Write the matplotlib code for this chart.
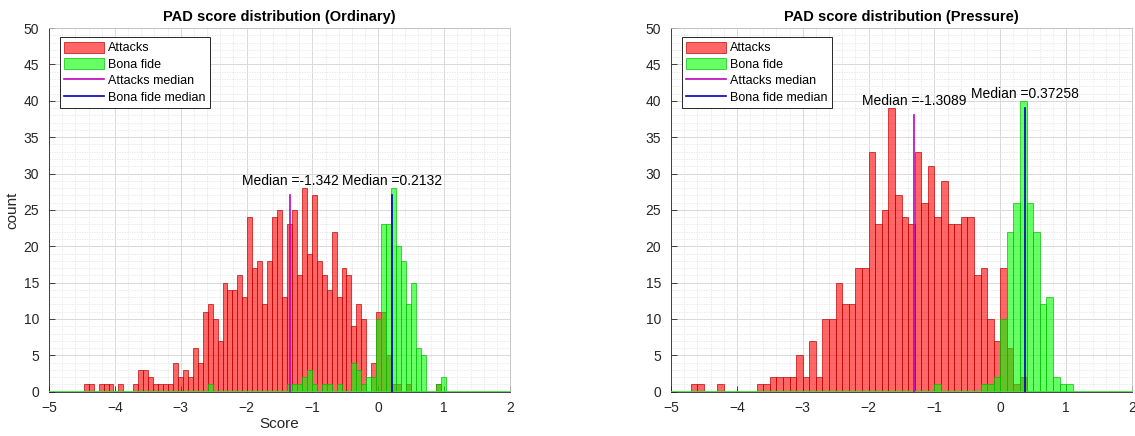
import matplotlib
matplotlib.use("Agg")
import numpy as np
import matplotlib.pyplot as plt
from matplotlib.ticker import MultipleLocator

plt.rcParams['font.family'] = ['Liberation Sans', 'DejaVu Sans']

# ---- Ordinary sensor: 93 equal bins spanning [-5, 2] ----
ord_bin_width = 7 / 93
ord_attack_first_bin = 7
ord_attack_counts = [
    1, 1, 0, 1, 1, 1, 0, 1, 0, 0,
    1, 3, 3, 2, 1, 1, 1, 1, 4, 2,
    3, 2, 6, 4, 11, 12, 10, 7, 15, 14,
    14, 16, 13, 24, 17, 18, 12, 18, 24, 25,
    13, 23, 25, 16, 28, 19, 27, 18, 16, 14,
    22, 13, 17, 16, 9, 12, 10, 0, 4, 11,
    11, 5, 1, 1, 0, 1, 0, 0, 0, 0,
    0, 1,
]
ord_bona_first_bin = 32
ord_bona_counts = [
    1, 0, 0, 0, 0, 0, 0, 0, 0, 0,
    0, 0, 0, 0, 0, 0, 1, 1, 1, 2,
    3, 1, 0, 1, 1, 0, 1, 0, 0, 4,
    3, 1, 2, 2, 10, 23, 23, 28, 20, 18,
    12, 15, 6, 5, 0, 0, 1, 2,
]
ord_attack_median = -1.342
ord_bona_median = 0.2132

# ---- Pressure sensor: bins of width 0.1 starting at -5 ----
prs_bin_width = 0.1
prs_attack_first_bin = 3
prs_attack_counts = [
    1, 1, 0, 0, 1, 0, 0, 0, 0, 0,
    1, 1, 2, 2, 2, 2, 5, 2, 7, 2,
    10, 10, 15, 12, 12, 17, 17, 33, 23, 25,
    39, 27, 24, 23, 33, 26, 31, 24, 29, 23,
    23, 24, 24, 16, 17, 10, 7, 17, 6, 1,
    2,
]
prs_bona_first_bin = 40
prs_bona_counts = [
    1, 0, 0, 0, 0, 0, 0, 1, 1, 2,
    10, 22, 26, 40, 26, 22, 12, 13, 2, 1,
    1,
]
prs_attack_median = -1.3089
prs_bona_median = 0.37258

panels = [
    ("PAD score distribution (Ordinary)", ord_bin_width,
     ord_attack_first_bin, ord_attack_counts, ord_bona_first_bin, ord_bona_counts,
     ord_attack_median, ord_bona_median, "-1.342", "0.2132"),
    ("PAD score distribution (Pressure)", prs_bin_width,
     prs_attack_first_bin, prs_attack_counts, prs_bona_first_bin, prs_bona_counts,
     prs_attack_median, prs_bona_median, "-1.3089", "0.37258"),
]

X_MIN, X_MAX = -5, 2
AX_GRAY = (0.15, 0.15, 0.15)

fig = plt.figure(figsize=(11.35, 4.36), dpi=100)
axes = [fig.add_axes([0.0432, 0.1016, 0.4062, 0.834]),
        fig.add_axes([0.5912, 0.1016, 0.4062, 0.834])]

for ax, (title, bw, a0, a_counts, b0, b_counts, a_med, b_med, a_txt, b_txt) in zip(axes, panels):
    a_left = X_MIN + bw * (a0 + np.arange(len(a_counts)))
    b_left = X_MIN + bw * (b0 + np.arange(len(b_counts)))
    a_counts = np.asarray(a_counts)
    b_counts = np.asarray(b_counts)

    h_a = ax.bar(a_left, a_counts, width=bw, align='edge',
                 facecolor=(1, 0, 0, 0.6), edgecolor=(0.75, 0, 0, 0.8),
                 linewidth=0.6, label='Attacks', zorder=2)
    h_b = ax.bar(b_left, b_counts, width=bw, align='edge',
                 facecolor=(0, 1, 0, 0.6), edgecolor=(0, 0.75, 0, 0.8),
                 linewidth=0.6, label='Bona fide', zorder=2)
    ax.axhline(0, color=(0.2, 0.9, 0.2), lw=1.3, zorder=3)

    a_top = a_counts.max()
    b_top = b_counts.max()
    h_am, = ax.plot([a_med, a_med], [0, a_top - 1], color='m', lw=1.2,
                    label='Attacks median', zorder=4)
    h_bm, = ax.plot([b_med, b_med], [0, b_top - 1], color=(0, 0, 0.75), lw=1.2,
                    label='Bona fide median', zorder=4)
    ax.text(a_med, a_top + 1, "Median =" + a_txt, ha='center', va='center',
            fontsize=10, color='black', zorder=5)
    ax.text(b_med, b_top + 1, "Median =" + b_txt, ha='center', va='center',
            fontsize=10, color='black', zorder=5)

    ax.set_xlim(X_MIN, X_MAX)
    ax.set_ylim(0, 50)
    ax.xaxis.set_major_locator(MultipleLocator(1))
    ax.xaxis.set_minor_locator(MultipleLocator(0.2))
    ax.yaxis.set_major_locator(MultipleLocator(5))
    ax.yaxis.set_minor_locator(MultipleLocator(1))
    ax.set_axisbelow(True)
    ax.grid(which='major', color='#d9d9d9', lw=0.7, linestyle='-')
    ax.grid(which='minor', color='#e4e4e4', lw=0.6, linestyle=(0, (1.5, 1.5)))
    ax.tick_params(which='both', direction='in', colors=AX_GRAY, labelsize=10,
                   labelcolor=AX_GRAY)
    ax.tick_params(which='major', length=4, width=0.6)
    ax.tick_params(axis='x', which='major', pad=7)
    ax.tick_params(axis='y', which='major', pad=7)
    ax.tick_params(which='minor', length=0)
    for side in ('left', 'bottom'):
        ax.spines[side].set_color(AX_GRAY)
        ax.spines[side].set_linewidth(0.6)
    for side in ('top', 'right'):
        ax.spines[side].set_color('#bfbfbf')
        ax.spines[side].set_linewidth(0.6)

    ax.set_title(title, fontsize=10.5, fontweight='bold', pad=5)

    leg = ax.legend([h_a, h_b, h_am, h_bm],
                    ['Attacks', 'Bona fide', 'Attacks median', 'Bona fide median'],
                    loc='upper left', bbox_to_anchor=(0.024, 0.975),
                    borderaxespad=0, fontsize=9, frameon=True, fancybox=False,
                    framealpha=1, edgecolor=AX_GRAY, handlelength=3.2,
                    handleheight=1.0, handletextpad=0.3, labelspacing=0.28,
                    borderpad=0.35)
    leg.get_frame().set_linewidth(0.7)
    leg.set_zorder(10)

axes[0].set_xlabel("Score", fontsize=11, color=AX_GRAY, labelpad=1)
axes[0].set_ylabel("count", fontsize=11, color=AX_GRAY, labelpad=3)

fig.savefig("out.png", dpi=100)
